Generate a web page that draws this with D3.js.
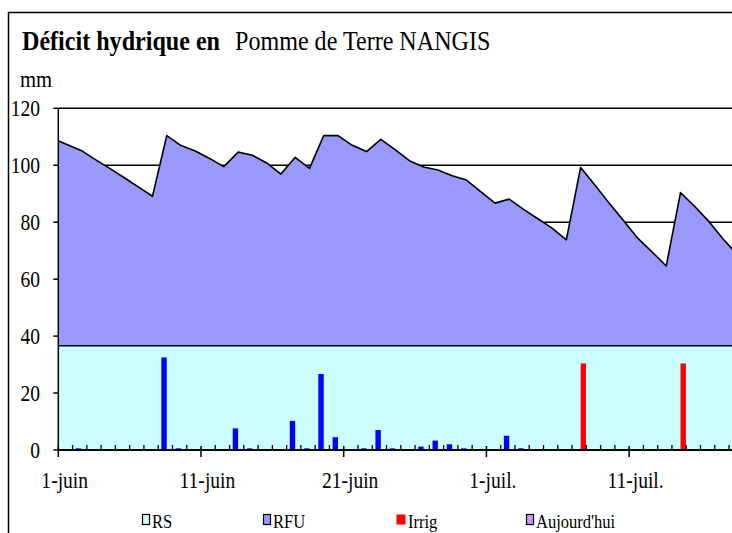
<!doctype html>
<html>
  <head>
    <meta charset="utf-8">
    <title>Déficit hydrique</title>
    <script src="https://cdnjs.cloudflare.com/ajax/libs/d3/7.8.5/d3.min.js"></script>
    <style>
      body { margin: 0; background: #fff; }
      svg { display: block; font-family: "Liberation Serif", "Times New Roman", serif; }
    </style>
  </head>
  <body>
    <div id="chart"></div>
    <script>
      // day 0 = 1-juin ; the first value is 31-mai so the curve reaches the axis
      const firstDay = -1;
      const rfu = [109.5, 107.3, 105.2, 102.0, 98.9, 95.7, 92.4, 89.1, 110.4, 106.9,
                   105.0, 102.4, 99.5, 104.6, 103.5, 100.8, 96.9, 102.8, 98.9, 110.4,
                   110.4, 107.0, 104.8, 109.1, 105.5, 101.6, 99.4, 98.3, 96.3, 94.8,
                   90.7, 86.7, 88.1, 84.5, 81.2, 77.9, 73.8, 99.2, 93.1, 86.7,
                   80.6, 74.4, 69.6, 64.6, 90.4, 85.5, 80.2, 74.0, 68.5];
      const rsLevel = 36.6;

      const pluieDays = [1, 7, 8, 12, 13, 16, 17, 18, 19, 21, 22, 23, 25, 26, 27, 28, 31, 32];
      const pluie = [0.6, 32.5, 0.6, 7.6, 0.6, 10.2, 0.6, 26.7, 4.5, 0.6, 7.0, 0.6, 1.2, 3.3, 2.0, 0.6, 5.0, 0.6];
      const irrigDays = [36, 43];
      const irrig = [30.4, 30.4];

      const xTicks = [0, 10, 20, 30, 40];
      const xTickLabels = ['1-juin', '11-juin', '21-juin', '1-juil.', '11-juil.'];
      const yTicks = [0, 20, 40, 60, 80, 100, 120];
      const legendLabels = ['RS', 'RFU', 'Irrig', "Aujourd'hui"];

      const W = 732, H = 533;
      const plot = { l: 58.3, t: 108.3, r: 743.3, b: 450 };
      const shift = 0.6; // points sit a little right of the day tick

      const svg = d3.select('#chart').append('svg')
        .attr('width', W)
        .attr('height', H);

      // the original font is a narrow Times: squeeze the glyphs a bit
      function narrow(sel, k) {
        sel.each(function () {
          const len = this.getComputedTextLength();
          d3.select(this)
            .attr('textLength', len * k)
            .attr('lengthAdjust', 'spacingAndGlyphs');
        });
      }

      const x = d3.scaleLinear().domain([0, 48]).range([plot.l, plot.r]);
      const y = d3.scaleLinear().domain([0, 120]).range([plot.b, plot.t]);
      const sub = d3.scaleBand().domain(['pluie', 'irrig']).range([-5.4, 5.4]);

      // outer frame
      svg.append('rect')
        .attr('x', 8.5).attr('y', 12.5)
        .attr('width', 800).attr('height', 600)
        .attr('fill', 'none').attr('stroke', '#000').attr('stroke-width', 1.5);

      // title
      svg.append('text')
        .attr('x', 22).attr('y', 50)
        .attr('font-size', 28).attr('font-weight', 'bold')
        .text('Déficit hydrique en')
        .call(narrow, 0.86);
      svg.append('text')
        .attr('x', 235).attr('y', 50)
        .attr('font-size', 28)
        .text('Pomme de Terre NANGIS')
        .call(narrow, 0.86);
      svg.append('text')
        .attr('x', 20).attr('y', 87)
        .attr('font-size', 24)
        .text('mm')
        .call(narrow, 0.86);

      svg.append('clipPath').attr('id', 'clip')
        .append('rect')
        .attr('x', plot.l).attr('y', plot.t - 2)
        .attr('width', plot.r - plot.l).attr('height', plot.b - plot.t + 2);

      // gridlines
      svg.selectAll('line.grid')
        .data(yTicks.filter(d => d > 0))
        .join('line')
        .attr('class', 'grid')
        .attr('x1', plot.l).attr('x2', W)
        .attr('y1', d => y(d)).attr('y2', d => y(d))
        .attr('stroke', '#000').attr('stroke-width', 1.5);

      const g = svg.append('g').attr('clip-path', 'url(#clip)');
      const pts = rfu.map((v, i) => ({ day: firstDay + i, v }));

      g.append('path')
        .datum(pts)
        .attr('fill', '#9999ff')
        .attr('d', d3.area().x(d => x(d.day + shift)).y0(y(0)).y1(d => y(d.v)));
      g.append('path')
        .datum(pts)
        .attr('fill', 'none').attr('stroke', '#000').attr('stroke-width', 1.6)
        .attr('stroke-linejoin', 'round')
        .attr('d', d3.line().x(d => x(d.day + shift)).y(d => y(d.v)));

      // RS level
      g.append('rect')
        .attr('x', plot.l).attr('y', y(rsLevel))
        .attr('width', plot.r - plot.l).attr('height', y(0) - y(rsLevel))
        .attr('fill', '#ccffff');
      g.append('line')
        .attr('x1', plot.l).attr('x2', plot.r)
        .attr('y1', y(rsLevel)).attr('y2', y(rsLevel))
        .attr('stroke', '#000').attr('stroke-width', 1.6);

      // bars
      g.selectAll('rect.pluie')
        .data(pluieDays.map((d, i) => ({ day: d, v: pluie[i] })))
        .join('rect')
        .attr('class', 'pluie')
        .attr('x', d => x(d.day + shift) + sub('pluie'))
        .attr('width', sub.bandwidth())
        .attr('y', d => y(d.v))
        .attr('height', d => y(0) - y(d.v))
        .attr('fill', '#0000ff');
      g.selectAll('rect.irrig')
        .data(irrigDays.map((d, i) => ({ day: d, v: irrig[i] })))
        .join('rect')
        .attr('class', 'irrig')
        .attr('x', d => x(d.day + shift) + sub('irrig'))
        .attr('width', sub.bandwidth())
        .attr('y', d => y(d.v))
        .attr('height', d => y(0) - y(d.v))
        .attr('fill', '#ff0000');

      // y axis
      svg.append('line')
        .attr('x1', plot.l).attr('x2', plot.l)
        .attr('y1', plot.t).attr('y2', plot.b)
        .attr('stroke', '#000').attr('stroke-width', 1.5);
      svg.selectAll('line.ytick')
        .data(yTicks)
        .join('line')
        .attr('class', 'ytick')
        .attr('x1', plot.l - 5).attr('x2', plot.l)
        .attr('y1', d => y(d)).attr('y2', d => y(d))
        .attr('stroke', '#000').attr('stroke-width', 1.5);
      svg.selectAll('text.ylab')
        .data(yTicks)
        .join('text')
        .attr('class', 'ylab')
        .attr('x', 40).attr('y', d => y(d))
        .attr('dy', '0.35em')
        .attr('text-anchor', 'end')
        .attr('font-size', 23)
        .text(d => d)
        .call(narrow, 0.85);

      // x axis
      svg.append('line')
        .attr('x1', plot.l).attr('x2', W)
        .attr('y1', plot.b).attr('y2', plot.b)
        .attr('stroke', '#000').attr('stroke-width', 2);
      svg.selectAll('line.minor')
        .data(d3.range(1, 48).filter(d => d % 10 !== 0))
        .join('line')
        .attr('class', 'minor')
        .attr('x1', d => x(d)).attr('x2', d => x(d))
        .attr('y1', plot.b - 5).attr('y2', plot.b)
        .attr('stroke', '#000').attr('stroke-width', 1.3);
      svg.selectAll('line.major')
        .data(xTicks)
        .join('line')
        .attr('class', 'major')
        .attr('x1', d => x(d)).attr('x2', d => x(d))
        .attr('y1', plot.b - 4).attr('y2', plot.b + 7)
        .attr('stroke', '#000').attr('stroke-width', 1.5);
      svg.selectAll('text.xlab')
        .data(xTicks)
        .join('text')
        .attr('class', 'xlab')
        .attr('x', (d, i) => x(d + 0.45))
        .attr('y', 488)
        .attr('text-anchor', 'middle')
        .attr('font-size', 23)
        .text((d, i) => xTickLabels[i])
        .call(narrow, 0.85);

      // legend
      const legendFill = ['#ccffff', '#9999ff', '#ff0000', '#cc99ff'];
      const legendStroke = ['#000', '#000', 'none', '#000'];
      const legendX = [142, 263, 396, 526];
      const leg = svg.selectAll('g.leg')
        .data(legendLabels)
        .join('g')
        .attr('class', 'leg')
        .attr('transform', (d, i) => `translate(${legendX[i]},514)`);
      leg.append('rect')
        .attr('x', 0.5).attr('y', 0.5)
        .attr('width', (d, i) => i === 2 ? 9 : 7)
        .attr('height', 10)
        .attr('fill', (d, i) => legendFill[i])
        .attr('stroke', (d, i) => legendStroke[i])
        .attr('stroke-width', 1.2);
      leg.append('text')
        .attr('x', (d, i) => i === 2 ? 12 : 10)
        .attr('y', 14)
        .attr('font-size', 19)
        .text(d => d)
        .call(narrow, 0.87);
    </script>
  </body>
</html>
